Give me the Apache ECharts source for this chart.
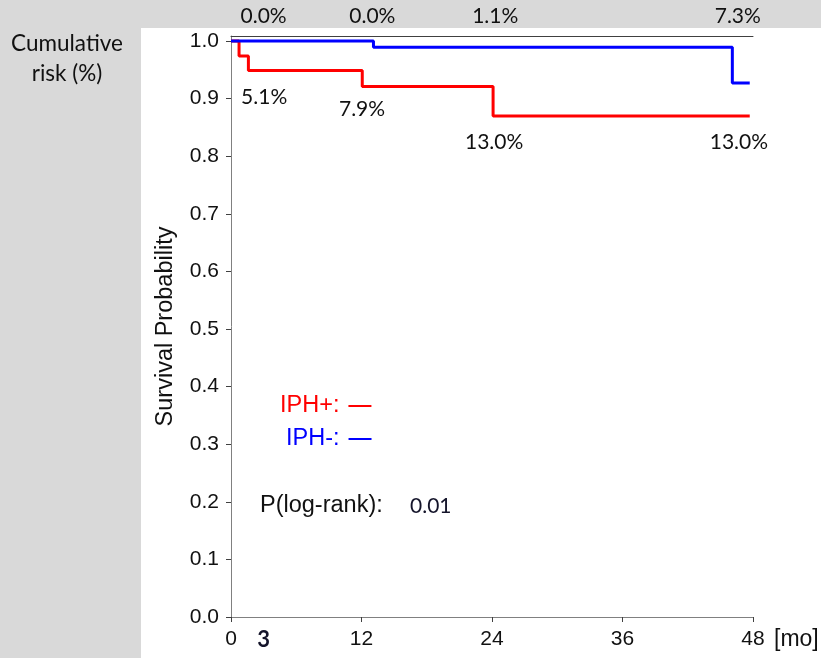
<!DOCTYPE html>
<html>
<head>
<meta charset="utf-8">
<script src="https://cdn.jsdelivr.net/npm/echarts@6/dist/echarts.min.js"></script>
<style>
  html, body { margin: 0; padding: 0; background: #d9d9d9; }
  #chart { width: 821px; height: 658px; }
</style>
</head>
<body>
<div id="chart"></div>
<script>
// Kaplan-Meier steps (months, survival probability)
const posMonths = [0, 0.74, 1.6, 12.07, 24.1, 47.7]
const posSurv = [1.0, 0.974, 0.949, 0.921, 0.870, 0.870]
const negMonths = [0, 13.1, 46.1, 47.7]
const negSurv = [1.0, 0.989, 0.927, 0.927]

// cumulative risk texts
const negRisk = ['0.0%', '0.0%', '1.1%', '7.3%']
const posRisk = ['5.1%', '7.9%', '13.0%', '13.0%']
// where the risk texts sit (data coords)
const negRiskAt = [3, 13, 24.3, 46.6]
const posRiskAt = [[3.05, 0.903], [12.05, 0.882], [24.2, 0.825], [46.7, 0.825]]

const xTicks = [0, 12, 24, 36, 48]
const xLabels = [0, 3, 12, 24, 36, 48]
const yTicks = [0, 0.1, 0.2, 0.3, 0.4, 0.5, 0.6, 0.7, 0.8, 0.9, 1.0]
const pValue = '0.01'

const ARIAL = 'Liberation Sans, Arial, sans-serif'
const CALIBRI = 'Lato, Noto Sans, sans-serif'
const INK = '#111111'

const chart = echarts.init(document.getElementById('chart'))

const zip = (xs, ys) => xs.map((x, i) => [x, ys[i]])

const option = {
  backgroundColor: '#d9d9d9',
  animation: false,
  grid: {
    left: 231, right: 68, top: 36, bottom: 41,
    containLabel: false,
    outerBoundsMode: 'none'
  },
  xAxis: [
    {
      type: 'value', min: 0, max: 48, position: 'bottom',
      splitLine: {show: false},
      axisLine: {lineStyle: {color: '#808080', width: 1}},
      axisTick: {customValues: xTicks, length: 5, lineStyle: {color: '#404040'}},
      axisLabel: {
        customValues: xLabels,
        margin: 12,
        fontFamily: ARIAL, fontSize: 21, color: INK,
        formatter: v => v === 3 ? '{m|3}' : String(v),
        rich: {m: {fontFamily: CALIBRI, fontSize: 22, color: '#14142a', fontWeight: 'bold'}}
      },
      name: '[mo]', nameLocation: 'end', nameGap: 21,
      nameTextStyle: {fontFamily: ARIAL, fontSize: 23, color: INK, verticalAlign: 'top', padding: [11, 0, 0, 0]}
    },
    {
      type: 'value', min: 0, max: 48, position: 'top',
      splitLine: {show: false},
      axisLine: {show: true, lineStyle: {color: '#404040', width: 1}},
      axisTick: {show: false},
      axisLabel: {
        customValues: negRiskAt,
        margin: 9,
        fontFamily: CALIBRI, fontSize: 21, color: INK,
        formatter: v => negRisk[negRiskAt.indexOf(v)]
      }
    }
  ],
  yAxis: {
    type: 'value', min: 0, max: 1.0087,
    splitLine: {show: false},
    axisLine: {show: true, lineStyle: {color: '#808080', width: 1}},
    axisTick: {show: true, customValues: yTicks, length: 5, lineStyle: {color: '#404040'}},
    axisLabel: {
      customValues: yTicks,
      margin: 12,
      fontFamily: ARIAL, fontSize: 21, color: INK,
      formatter: v => v.toFixed(1)
    },
    name: 'Survival Probability', nameLocation: 'middle', nameGap: 53,
    nameTextStyle: {fontFamily: ARIAL, fontSize: 23.5, color: INK}
  },
  legend: [
    {
      data: [{name: 'IPH+', textStyle: {color: '#ff0000'}}],
      left: 280, top: 394, padding: 0, align: 'right',
      icon: 'rect', itemWidth: 23, itemHeight: 2,
      formatter: '{name}:',
      textStyle: {fontFamily: ARIAL, fontSize: 23.5, padding: [0, 4, 0, 0]}
    },
    {
      data: [{name: 'IPH-', textStyle: {color: '#0000ff'}}],
      left: 286, top: 427, padding: 0, align: 'right',
      icon: 'rect', itemWidth: 23, itemHeight: 2,
      formatter: '{name}:',
      textStyle: {fontFamily: ARIAL, fontSize: 23.5, padding: [0, 4, 0, 0]}
    }
  ],
  series: [
    {
      name: 'IPH+', type: 'line', step: 'end', symbol: 'none',
      color: '#ff0000',
      lineStyle: {color: '#ff0000', width: 3},
      data: zip(posMonths, posSurv)
    },
    {
      name: 'IPH-', type: 'line', step: 'end', symbol: 'none',
      color: '#0000ff',
      lineStyle: {color: '#0000ff', width: 3},
      data: zip(negMonths, negSurv)
    },
    {
      name: 'risk IPH+', type: 'scatter', symbolSize: 0, silent: true,
      itemStyle: {opacity: 1},
      label: {
        show: true, position: 'inside',
        fontFamily: CALIBRI, fontSize: 21, color: INK,
        formatter: p => posRisk[p.dataIndex]
      },
      data: posRiskAt
    }
  ],
  graphic: [
    {
      type: 'rect', z: -10, silent: true,
      shape: {x: 141, y: 28, width: 680, height: 630},
      style: {fill: '#ffffff'}
    },
    {
      type: 'text', x: 67, y: 29, silent: true,
      style: {
        text: 'Cumulative\nrisk (%)', fontFamily: CALIBRI, fontSize: 22.5,
        fill: INK, align: 'center', lineHeight: 30
      }
    },
    {
      type: 'text', left: 260, top: 494, silent: true,
      style: {text: 'P(log-rank):', fontFamily: ARIAL, fontSize: 23.5, fill: INK}
    },
    {
      type: 'text', left: 410, top: 496, silent: true,
      style: {text: pValue, fontFamily: CALIBRI, fontSize: 21, fill: '#14142a'}
    }
  ]
}

chart.setOption(option)
</script>
</body>
</html>
